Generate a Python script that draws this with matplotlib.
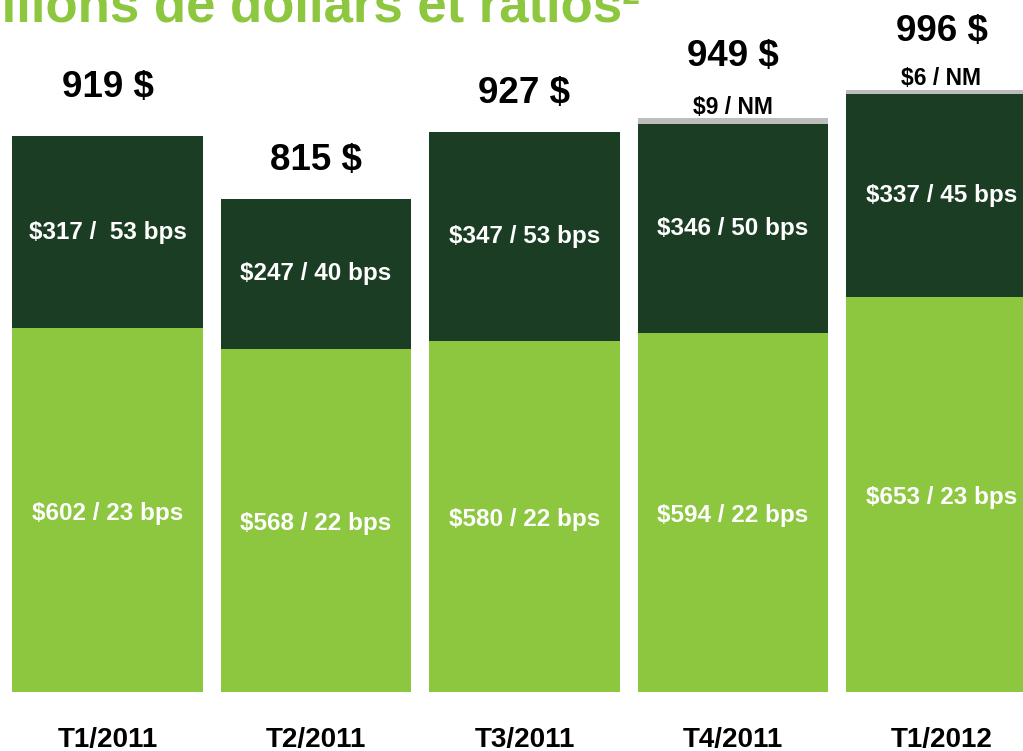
#!/usr/bin/env python3
# -*- coding: utf-8 -*-
import numpy as np
import matplotlib.pyplot as plt

# Data (millions de dollars / bps)
quarters = ['T1/2011', 'T2/2011', 'T3/2011', 'T4/2011', 'T1/2012']
base = np.array([602, 568, 580, 594, 653])
base_bps = [23, 22, 22, 22, 23]
upper = np.array([317, 247, 347, 346, 337])
upper_bps = [53, 40, 53, 50, 45]
other = np.array([0, 0, 0, 9, 6])
totals = base + upper + other

c_light = '#8dc63f'
c_dark = '#1a3d23'
c_gray = '#bdbdbd'

plt.rcParams['font.family'] = ['Liberation Sans', 'DejaVu Sans']
plt.rcParams['font.weight'] = 'bold'

fig = plt.figure(figsize=(10.23, 7.51), dpi=100)
ax = fig.add_axes([0, 59 / 751, 1, 692 / 751])

x = np.arange(len(quarters))
w = 0.916
ax.bar(x, base, w, color=c_light)
ax.bar(x, upper, w, bottom=base, color=c_dark)
ax.bar(x, other, w, bottom=base + upper, color=c_gray)

ax.set_xlim(-107.5 / 208.5, (1023 - 107.5) / 208.5)
ax.set_ylim(0, 692 / 0.6045)

# segment labels
for i in range(len(quarters)):
    ax.text(x[i], base[i] / 2 - 5, f'${base[i]} / {base_bps[i]} bps',
            ha='center', va='center', color='white', fontsize=17.5)
    sep = '  ' if i == 0 else ' '
    ax.text(x[i], base[i] + upper[i] / 2, f'${upper[i]} /{sep}{upper_bps[i]} bps',
            ha='center', va='center', color='white', fontsize=17.5)
    if other[i] > 0:
        ax.annotate(f'${other[i]} / NM', (x[i], totals[i]), xytext=(0, 11 * 0.72),
                    textcoords='offset points', ha='center', va='center',
                    fontsize=16.5, color='black')

# totals
tot_off = [49, 39, 38, 62, 58]  # px above bar
for i in range(len(quarters)):
    ax.annotate(f'{totals[i]} $', (x[i], totals[i]), xytext=(0, tot_off[i] * 0.72),
                textcoords='offset points', ha='center', va='center',
                fontsize=26.5, color='black')

ax.set_xticks(x)
ax.set_xticklabels(quarters, fontsize=20, fontweight='bold')
ax.tick_params(axis='x', length=0, pad=25)
ax.set_yticks([])
for s in ax.spines.values():
    s.set_visible(False)

fig.text(640 / 1023, 1 - 22 / 751, 'millions de dollars et ratios²', ha='right',
         va='baseline', color=c_light, fontsize=38, fontweight='bold')

fig.savefig('out.png', dpi=100)
